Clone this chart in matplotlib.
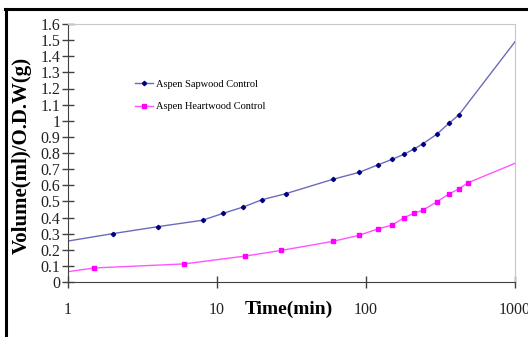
import numpy as np
import matplotlib.pyplot as plt
from matplotlib.lines import Line2D
from matplotlib.ticker import FixedLocator, FuncFormatter, NullLocator

plt.rcParams['font.family'] = ['Liberation Serif', 'DejaVu Serif']

# time (min) and volume (ml/g)
sap_time = [1, 2, 4, 8, 11, 15, 20, 29, 60, 90, 120, 150, 180, 210, 240, 300, 360, 420, 1000]
sap_vol = [0.254, 0.30, 0.343, 0.383, 0.426, 0.465, 0.51, 0.548, 0.637, 0.68, 0.726,
           0.761, 0.792, 0.825, 0.856, 0.918, 0.984, 1.036, 1.49]

heart_time = [1, 1.5, 6, 15.5, 27, 60, 90, 120, 150, 180, 210, 240, 300, 360, 420, 485, 1000]
heart_vol = [0.064, 0.087, 0.112, 0.161, 0.196, 0.252, 0.29, 0.329, 0.353, 0.399, 0.426,
             0.445, 0.498, 0.546, 0.577, 0.616, 0.736]

x_ticks = [1, 10, 100, 1000]
y_ticks = np.round(np.arange(0, 1.61, 0.1), 1)

fig = plt.figure(figsize=(5.28, 3.37), dpi=100)
ax = fig.add_axes([68 / 528, 55 / 337, 447 / 528, 258 / 337])

ax.plot(sap_time, sap_vol, color='#6b6bbd', lw=1, marker='D', ms=2.2,
        mfc='#000080', mec='#000080', markevery=list(range(1, len(sap_time) - 1)),
        label='Aspen Sapwood Control')
ax.plot(heart_time, heart_vol, color='#ff55ff', lw=1, marker='s', ms=2.5,
        mfc='#ff00ff', mec='#ff00ff', markevery=list(range(1, len(heart_time) - 1)),
        label='Aspen Heartwood Control')

ax.set_xscale('log')
ax.set_xlim(1, 1000)
ax.set_ylim(0, 1.6)
ax.xaxis.set_major_locator(FixedLocator(x_ticks))
ax.xaxis.set_minor_locator(NullLocator())
ax.xaxis.set_major_formatter(FuncFormatter(lambda v, p: '%g' % v))
ax.yaxis.set_major_locator(FixedLocator(y_ticks))
ax.yaxis.set_major_formatter(FuncFormatter(lambda v, p: '%g' % v))

ax.tick_params(axis='both', direction='inout', length=9, width=1, color='#404040',
               labelsize=11.5, labelcolor='#222222')
ax.tick_params(axis='x', pad=10)
ax.tick_params(axis='y', pad=1)

for s in ['top', 'right']:
    ax.spines[s].set_color('#c8c8c8')
for s in ['left', 'bottom']:
    ax.spines[s].set_color('#404040')

fig.text(22 / 528, 1 - 155 / 337, 'Volume(ml)/O.D.W(g)', fontsize=15, fontweight='bold',
         rotation=90, ha='center', va='center')
fig.text(289 / 528, 1 - 309 / 337, 'Time(min)', fontsize=14, fontweight='bold',
         ha='center', va='center')

ax.legend(loc='upper left', bbox_to_anchor=(126 / 528, 1 - 70 / 337),
          bbox_transform=fig.transFigure, frameon=False, fontsize=7.5,
          handlelength=1.7, labelspacing=1.3, handletextpad=0.3)

# black frame around the picture
fig.add_artist(Line2D([5 / 528, 1], [1 - 8.5 / 337, 1 - 8.5 / 337], color='black', lw=2.2))
fig.add_artist(Line2D([5.5 / 528, 5.5 / 528], [0, 1 - 8.5 / 337], color='black', lw=2.2))

fig.savefig('out.png', dpi=100)
